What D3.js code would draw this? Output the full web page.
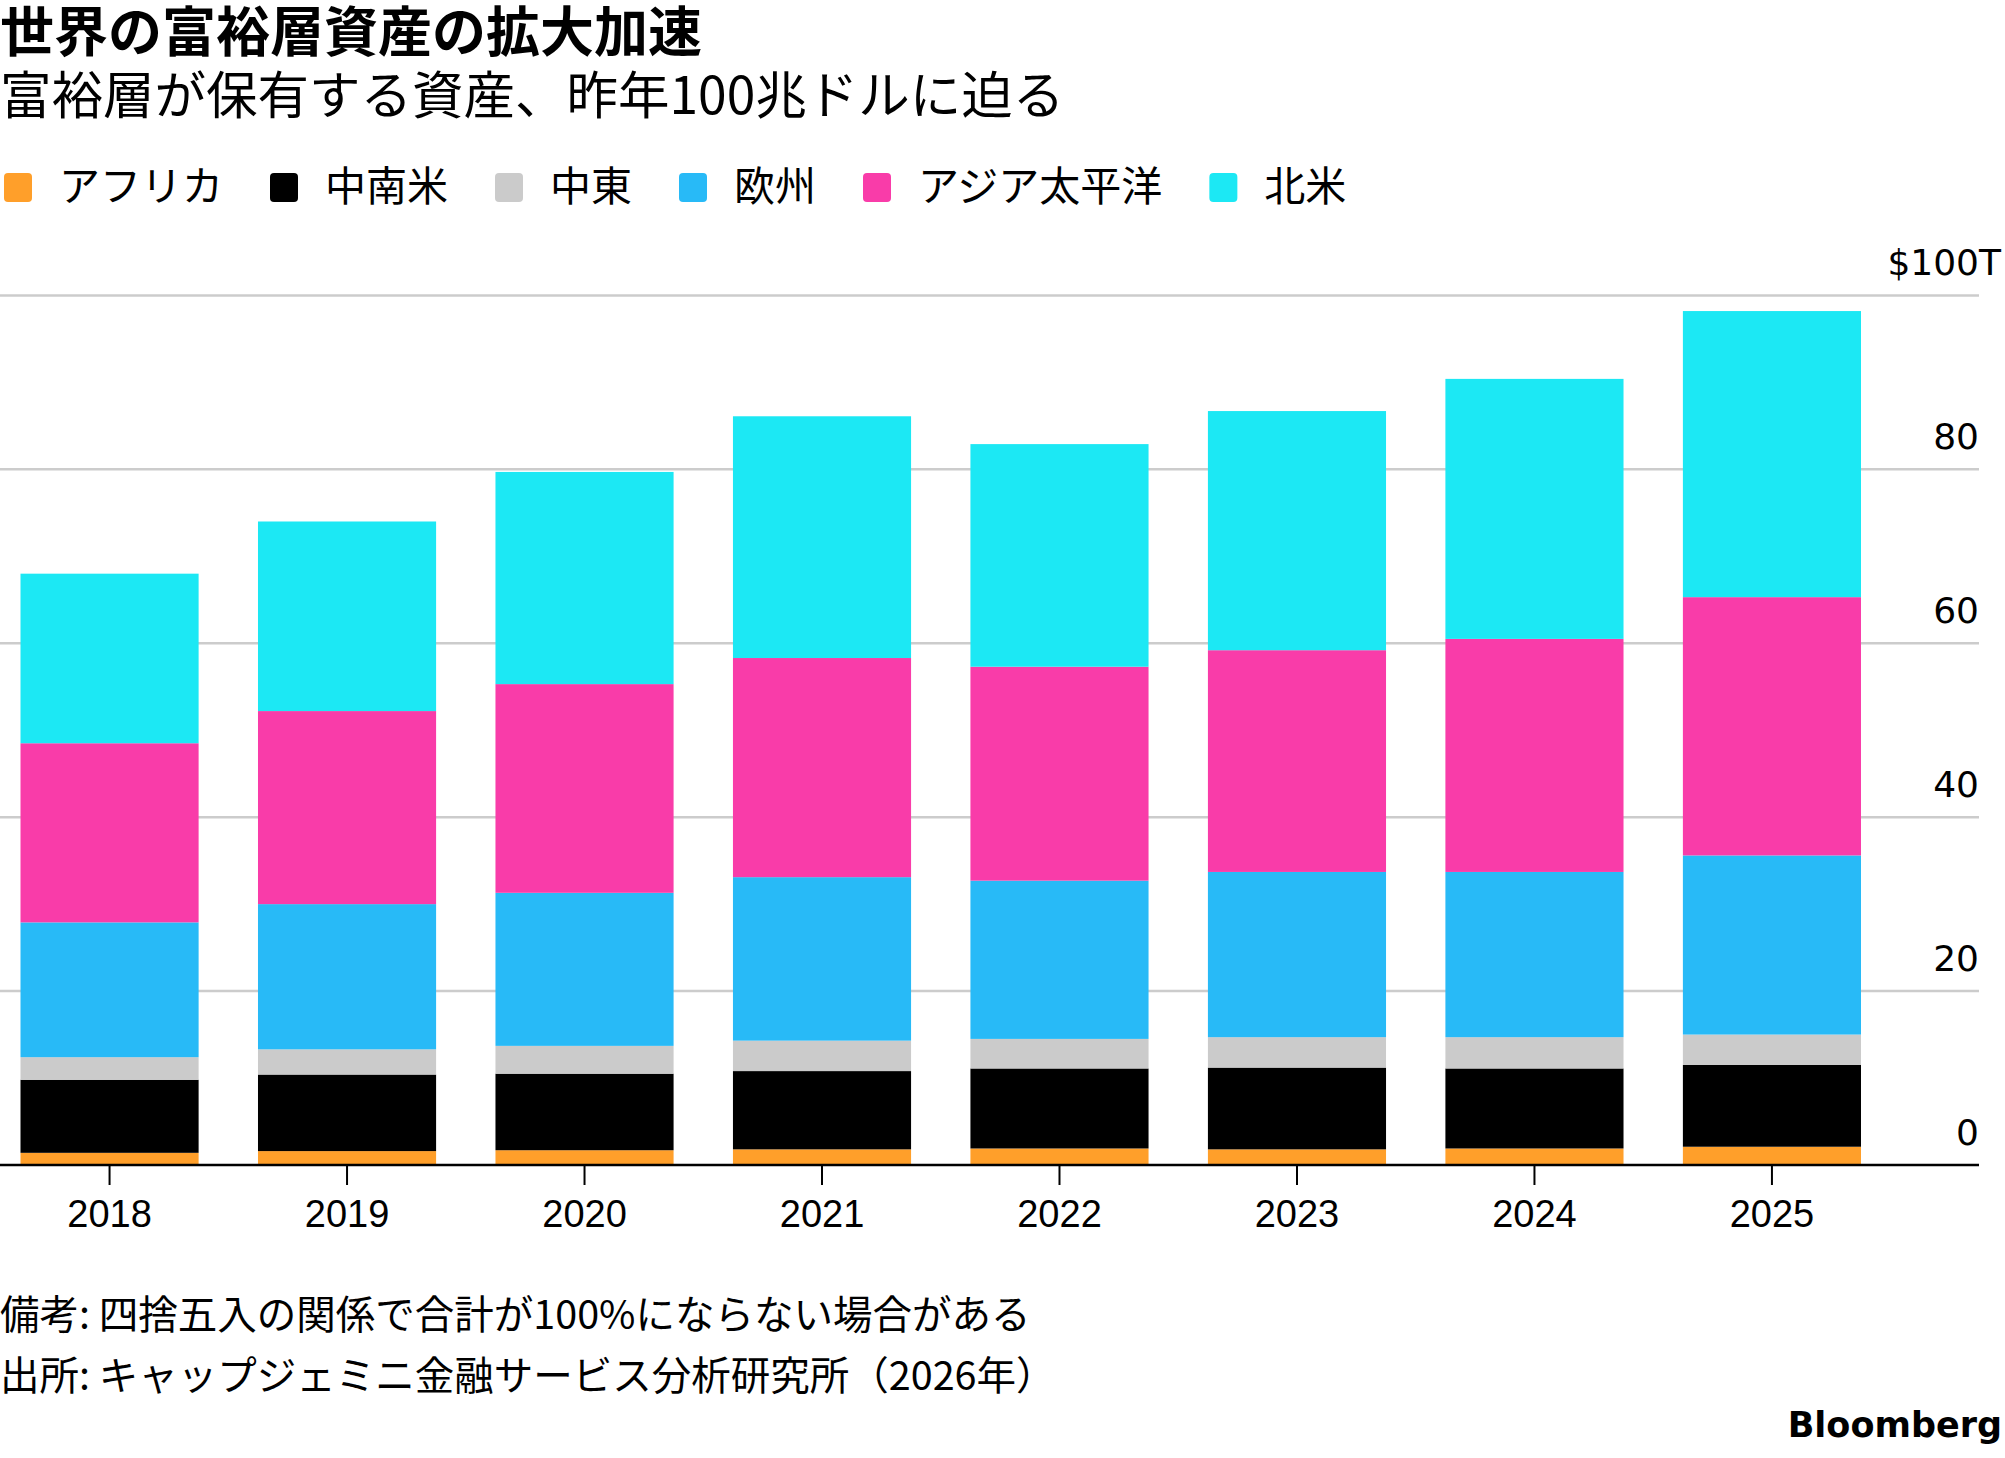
<!DOCTYPE html>
<html>
<head>
<meta charset="utf-8">
<script src="https://cdn.jsdelivr.net/npm/d3@7"></script>
<style>
    html, body { margin: 0; padding: 0; background: #fff; }
    svg { display: block; }
</style>
</head>
<body>
<div id="chart"></div>
<script>
//
// Stacked bar chart: world HNWI wealth by region
//

var years = ["2018", "2019", "2020", "2021", "2022", "2023", "2024", "2025"];

// $ trillions
var africa  = [1.4, 1.6, 1.7, 1.8, 1.9, 1.8, 1.9, 2.1];
var latam   = [8.4, 8.8, 8.8, 9.0, 9.2, 9.4, 9.2, 9.4];
var mideast = [2.6, 2.9, 3.2, 3.5, 3.4, 3.5, 3.6, 3.5];
var europe  = [15.5, 16.7, 17.6, 18.8, 18.2, 19.0, 19.0, 20.6];
var apac    = [20.6, 22.2, 24.0, 25.2, 24.6, 25.5, 26.8, 29.7];
var namer   = [19.5, 21.8, 24.4, 27.8, 25.6, 27.5, 29.9, 32.9];

var seriesNames = ["アフリカ", "中南米", "中東", "欧州", "アジア太平洋", "北米"];
var seriesColors = ["#FF9F2A", "#000000", "#CBCBCB", "#28BAF7", "#F93CA9", "#1CE8F4"];
var yTicks = [0, 20, 40, 60, 80, 100];

var titleText = "世界の富裕層資産の拡大加速";
var subtitleText = "富裕層が保有する資産、昨年100兆ドルに迫る";
var noteText = "備考: 四捨五入の関係で合計が100%にならない場合がある";
var sourceText = "出所: キャップジェミニ金融サービス分析研究所（2026年）";

var jpFont = "'Noto Sans CJK JP', 'Noto Sans', sans-serif";

function drawStack(divName, width, height) {

    var plotLeft = 0;
    var plotRight = 1979;
    var plotTop = 295.4;
    var plotBottom = 1165;

    var svg = d3.select("#" + divName)
        .append("svg")
        .attr("width", width)
        .attr("height", height);

    // title + subtitle
    svg.append("text")
        .attr("x", 0).attr("y", 52)
        .style("font-family", jpFont)
        .style("font-weight", "bold")
        .style("font-size", "54px")
        .text(titleText);

    svg.append("text")
        .attr("x", 0).attr("y", 114)
        .style("font-family", jpFont)
        .style("font-size", "51.5px")
        .text(subtitleText);

    // legend, laid out left to right
    var lx = 4;
    seriesNames.forEach(function (name, idx) {
        svg.append("rect")
            .attr("x", lx).attr("y", 173)
            .attr("width", 28).attr("height", 29)
            .attr("rx", 4)
            .attr("fill", seriesColors[idx]);
        var t = svg.append("text")
            .attr("x", lx + 55).attr("y", 201)
            .style("font-family", jpFont)
            .style("font-size", "41px")
            .text(name);
        lx = lx + 55 + t.node().getComputedTextLength() + 47;
    });

    // scales
    var x = d3.scaleBand()
        .domain(years)
        .range([20.5, 1861])
        .paddingInner(0.25)
        .paddingOuter(0);
    var y = d3.scaleLinear().domain([0, 100]).range([plotBottom, plotTop]);

    // gridlines
    svg.append("g")
        .selectAll("line")
        .data(yTicks.filter(function (d) { return d > 0; }))
        .enter().append("line")
        .attr("x1", plotLeft).attr("x2", plotRight)
        .attr("y1", function (d) { return y(d); })
        .attr("y2", function (d) { return y(d); })
        .attr("stroke", "#CCCCCC")
        .attr("stroke-width", 2.5);

    // y labels sit above their gridline, right aligned
    svg.append("g")
        .selectAll("text")
        .data(yTicks)
        .enter().append("text")
        .attr("x", plotRight)
        .attr("y", function (d) { return y(d) - 20; })
        .attr("text-anchor", "end")
        .style("font-family", "'DejaVu Sans', sans-serif")
        .style("font-size", "36px")
        .text(function (d) { return d == 100 ? "$100" : d; });

    svg.append("text")
        .attr("x", plotRight)
        .attr("y", y(100) - 20)
        .style("font-family", "'DejaVu Sans', sans-serif")
        .style("font-size", "36px")
        .text("T");

    // stacked bars
    var rows = years.map(function (yr, i) {
        return { year: yr, s0: africa[i], s1: latam[i], s2: mideast[i], s3: europe[i], s4: apac[i], s5: namer[i] };
    });
    var stack = d3.stack().keys(["s0", "s1", "s2", "s3", "s4", "s5"]);
    var layers = stack(rows);

    svg.append("g")
        .selectAll("g")
        .data(layers)
        .enter().append("g")
        .attr("fill", function (d, idx) { return seriesColors[idx]; })
        .selectAll("rect")
        .data(function (d) { return d; })
        .enter().append("rect")
        .attr("x", function (d) { return x(d.data.year); })
        .attr("y", function (d) { return y(d[1]); })
        .attr("width", x.bandwidth())
        .attr("height", function (d) { return y(d[0]) - y(d[1]); });

    // x axis: baseline, ticks, year labels
    svg.append("line")
        .attr("x1", plotLeft).attr("x2", plotRight)
        .attr("y1", plotBottom).attr("y2", plotBottom)
        .attr("stroke", "#000")
        .attr("stroke-width", 2.5);

    var xAxis = svg.append("g").selectAll("g")
        .data(years)
        .enter().append("g")
        .attr("transform", function (d) { return "translate(" + (x(d) + x.bandwidth() / 2) + ",0)"; });

    xAxis.append("line")
        .attr("y1", plotBottom).attr("y2", plotBottom + 20)
        .attr("stroke", "#000")
        .attr("stroke-width", 2);

    xAxis.append("text")
        .attr("y", 1227)
        .attr("text-anchor", "middle")
        .style("font-family", "'Liberation Sans', Arial, sans-serif")
        .style("font-size", "38px")
        .text(function (d) { return d; });

    // footnotes
    svg.append("text")
        .attr("x", 0).attr("y", 1329)
        .style("font-family", jpFont)
        .style("font-size", "39.5px")
        .text(noteText);

    svg.append("text")
        .attr("x", 0).attr("y", 1390)
        .style("font-family", jpFont)
        .style("font-size", "39.5px")
        .text(sourceText);

    svg.append("text")
        .attr("x", 2002).attr("y", 1437)
        .attr("text-anchor", "end")
        .style("font-family", "'DejaVu Sans', sans-serif")
        .style("font-weight", "bold")
        .style("font-size", "35px")
        .text("Bloomberg");

    return svg;
}

drawStack("chart", 2005, 1458);
</script>
</body>
</html>
